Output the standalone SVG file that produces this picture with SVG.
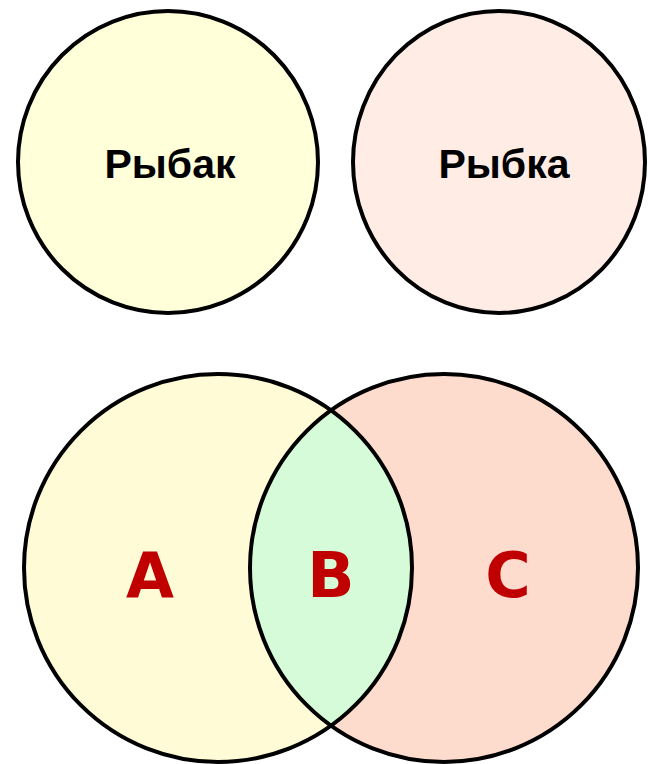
<svg xmlns="http://www.w3.org/2000/svg" width="648" height="764" viewBox="0 0 648 764">
<style>
.ring{stroke:#000;stroke-width:4}
.lbl{font-family:"Liberation Sans",Arial,sans-serif;font-weight:bold;font-size:41px;fill:#000;text-anchor:middle}
.let{font-family:"DejaVu Sans",Verdana,sans-serif;font-weight:bold;font-size:62px;fill:#C00000;text-anchor:middle}
</style>
<defs>
<clipPath id="clipL"><ellipse cx="218" cy="568" rx="194" ry="194"/></clipPath>
</defs>
<rect width="648" height="764" fill="#fff"/>
<g id="node-rybak">
<ellipse class="ring" cx="168" cy="162" rx="150" ry="151" fill="#FFFFD9"/>
<text class="lbl" x="170" y="178">Рыбак</text>
</g>
<g id="node-rybka">
<ellipse class="ring" cx="499" cy="162" rx="146" ry="151" fill="#FFECE4"/>
<text class="lbl" x="504" y="178">Рыбка</text>
</g>
<g id="node-venn">
<ellipse cx="218" cy="568" rx="194" ry="194" fill="#FFFBD6"/>
<ellipse cx="444" cy="568" rx="194" ry="194" fill="#FDDBCD"/>
<ellipse cx="444" cy="568" rx="194" ry="194" fill="#D5FBD9" clip-path="url(#clipL)"/>
<ellipse class="ring" cx="218" cy="568" rx="194" ry="194" fill="none"/>
<ellipse class="ring" cx="444" cy="568" rx="194" ry="194" fill="none"/>
<text class="let" x="150" y="597">A</text>
<text class="let" x="331" y="597">B</text>
<text class="let" x="508" y="597">C</text>
</g>
<g id="connectors"/>
</svg>
